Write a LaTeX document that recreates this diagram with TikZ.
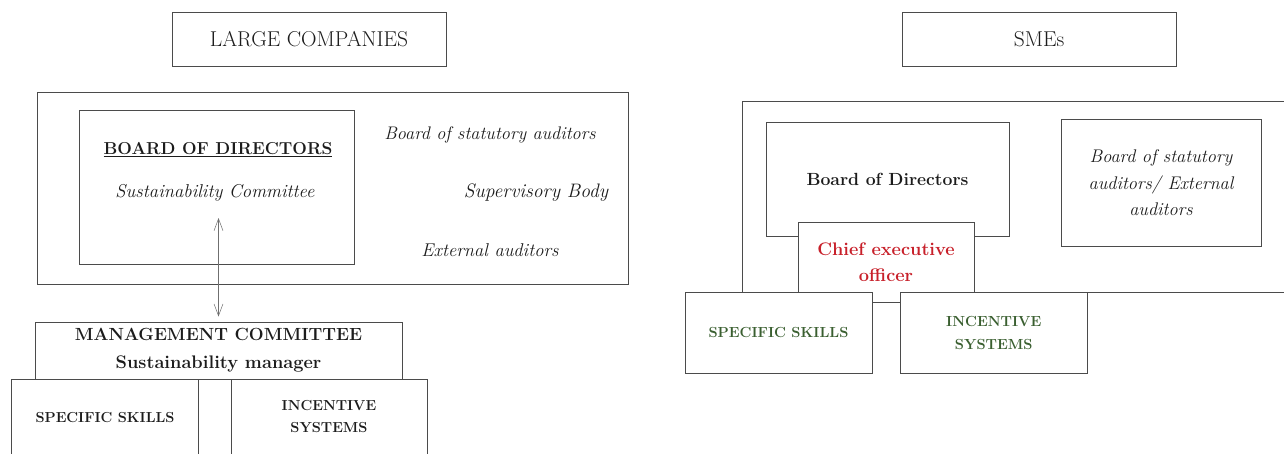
\documentclass[tikz,border=0pt]{standalone}
\usetikzlibrary{arrows.meta}
\definecolor{ln}{RGB}{75,75,75}
\definecolor{tx}{RGB}{28,28,28}
\definecolor{ceored}{RGB}{200,32,42}
\definecolor{skgreen}{RGB}{58,95,48}
\tikzset{
  box/.style={draw=ln, line width=0.9pt, fill=white, inner sep=0pt, rectangle},
  lbl/.style={text=tx, inner sep=0pt, align=center},
  arr/.style={draw=ln!80, line width=0.5pt, {Straight Barb[length=12pt,width=9pt]}-{Straight Barb[length=12pt,width=9pt]}}
}
\newcommand{\fs}[2]{\fontsize{#1}{#2}\selectfont}
\begin{document}
\begin{tikzpicture}[x=1pt,y=-1pt]
\useasboundingbox (0,0) rectangle (1284,453);
\clip (0,0) rectangle (1284,453);
% titles
\node[box, minimum width=274, minimum height=54, lbl, font=\fs{21.5}{24}] (large) at (309,39) {LARGE COMPANIES};
\node[box, minimum width=274, minimum height=54, lbl, font=\fs{21.5}{24}] (sme) at (1039,39) {SMEs};
% ---- left ----
\node[box, minimum width=591, minimum height=192] (lout) at (332.5,188) {};
\node[box, minimum width=275, minimum height=154] (lboard) at (216.5,187) {};
\node[lbl, font=\bfseries\fs{17.3}{21}] (lbodt) at (218,150) {\underline{BOARD OF DIRECTORS}};
\node[lbl, font=\itshape\fs{18.6}{21}] (lsc) at (215,193) {Sustainability Committee};
\node[lbl, font=\itshape\fs{18.2}{21}] (lbsa) at (490,135) {Board of statutory auditors};
\node[lbl, font=\itshape\fs{19.5}{21}] (lsb) at (536,193) {Supervisory Body};
\node[lbl, font=\itshape\fs{18.5}{21}] (lea) at (490,250) {External auditors};
\node[box, minimum width=367, minimum height=57, lbl, font=\bfseries\fs{17.6}{28}] (mgmt) at (218.5,350.5) {MANAGEMENT COMMITTEE\\\fontsize{18.2}{28}\selectfont Sustainability manager};
\node[box, minimum width=187, minimum height=101] (lskills) at (104.5,429.5) {};
\node[box, minimum width=196, minimum height=101] (linc) at (329,429.5) {};
\node[lbl, font=\bfseries\fs{14.5}{17}] (lskt) at (105,418) {SPECIFIC SKILLS};
\node[lbl, font=\bfseries\fs{14.5}{22}] (linct) at (329,417) {INCENTIVE\\SYSTEMS};
\coordinate (atop) at (218.5,218);
\draw[arr] (atop) -- ([yshift=5pt]mgmt.north);
% ---- right ----
\node[box, minimum width=558, minimum height=191] (rout) at (1021,196.5) {};
\node[box, minimum width=243, minimum height=113.5, lbl, font=\bfseries\fs{17.6}{20}] (rboard) at (887.5,179.25) {Board of Directors};
\node[box, minimum width=200, minimum height=126.5, lbl, font=\itshape\fs{18.3}{26.5}] (raud) at (1161,182.75) {Board of statutory\\auditors/ External\\auditors};
\node[box, minimum width=176, minimum height=80, lbl, text=ceored, font=\bfseries\fs{18.2}{26}] (ceo) at (886,262.5) {Chief executive\\officer};
\node[box, minimum width=187, minimum height=81, lbl, text=skgreen, font=\bfseries\fs{14.6}{17}] (rskills) at (778.5,332.5) {SPECIFIC SKILLS};
\node[box, minimum width=187.5, minimum height=81, lbl, text=skgreen, font=\bfseries\fs{14.6}{23}] (rinc) at (993.75,332.5) {INCENTIVE\\SYSTEMS};
\end{tikzpicture}
\end{document}
